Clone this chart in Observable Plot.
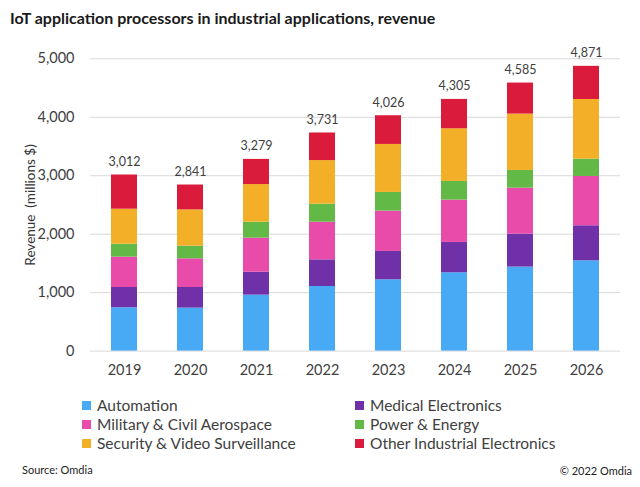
<!DOCTYPE html>
<html>
<head>
<meta charset="utf-8">
<script src="https://cdn.jsdelivr.net/npm/d3@7"></script>
<script src="https://cdn.jsdelivr.net/npm/@observablehq/plot@0.6"></script>
<style>
  body { margin: 0; background: #fff; font-family: Lato, "Open Sans", sans-serif; }
  #wrap { position: relative; width: 640px; height: 487px; overflow: hidden; }
  #title { position: absolute; left: 10px; top: 8px; font-size: 16px; font-weight: bold; color: #1a1a1a; white-space: nowrap; }
  #chart { position: absolute; left: 0; top: 38px; }
  #chart svg g[aria-label="y-axis label"] text { font-size: 13.5px; fill: #333; }
  .leg { position: absolute; font-size: 15.5px; color: #404040; white-space: nowrap; line-height: 18px; }
  .leg span.sw { display: inline-block; width: 9px; height: 9px; margin-right: 6px; vertical-align: 1px; }
  .foot { position: absolute; font-size: 11px; color: #222; white-space: nowrap; }
</style>
</head>
<body>
<div id="wrap">
  <div id="title">IoT application processors in industrial applications, revenue</div>
  <div id="chart"></div>
  <div id="legend"></div>
  <div class="foot" style="left:22px; top:463px;">Source: Omdia</div>
  <div class="foot" style="right:8px; top:464px;">© 2022 Omdia</div>
</div>
<script>
const years = ["2019", "2020", "2021", "2022", "2023", "2024", "2025", "2026"];
const series = ["Automation", "Medical Electronics", "Military & Civil Aerospace", "Power & Energy", "Security & Video Surveillance", "Other Industrial Electronics"];
const colors = ["#48aaf4", "#7030a8", "#e84baa", "#63b946", "#f2af27", "#db1b3b"];
const automation = [741, 735, 957, 1105, 1220, 1340, 1437, 1545];
const medical = [347, 353, 393, 456, 485, 519, 564, 599];
const military = [519, 490, 582, 644, 690, 724, 787, 843];
const power = [222, 217, 273, 308, 319, 319, 302, 297];
const security = [598, 621, 644, 746, 821, 901, 964, 1020];
const other = [585, 425, 430, 472, 491, 502, 531, 567];
const totals = [3012, 2841, 3279, 3731, 4026, 4305, 4585, 4871];
const yTicks = [0, 1000, 2000, 3000, 4000, 5000];

const valuesBySeries = [automation, medical, military, power, security, other];
const data = [];
series.forEach((s, i) => years.forEach((y, j) => data.push({year: y, series: s, value: valuesBySeries[i][j]})));
const totalData = years.map((y, j) => ({year: y, total: totals[j]}));
const fmt = d3.format(",");

const chart = Plot.plot({
  width: 640,
  height: 352,
  marginLeft: 90,
  marginRight: 20,
  marginTop: 20.3,
  marginBottom: 39.4,
  style: {fontFamily: "Lato, 'Open Sans', sans-serif", fontSize: "14.5px", color: "#404040", background: "#fff", overflow: "visible"},
  x: {domain: years, paddingInner: 0.6, paddingOuter: 0.31, label: null, tickSize: 0, tickPadding: 14},
  y: {domain: [0, 5000], ticks: yTicks, tickFormat: fmt, tickSize: 0, tickPadding: 16,
      label: "Revenue  (millions $)", labelAnchor: "center", labelOffset: 65, labelArrow: "none"},
  color: {domain: series, range: colors},
  marks: [
    Plot.ruleY(yTicks, {stroke: "#d9d9d9", strokeWidth: 1}),
    Plot.barY(data, {x: "year", y: "value", fill: "series"}),
    Plot.text(totalData, {x: "year", y: "total", text: d => fmt(d.total), dy: -13, fontSize: 12.5, fill: "#404040"})
  ]
});
document.getElementById("chart").appendChild(chart);

// Legend (two columns, row-major order)
const legend = document.getElementById("legend");
const colX = [82, 355];
const rowY = [396, 415, 434];
series.forEach((s, i) => {
  const d = document.createElement("div");
  d.className = "leg";
  d.style.left = colX[i % 2] + "px";
  d.style.top = rowY[Math.floor(i / 2)] + "px";
  const sw = document.createElement("span");
  sw.className = "sw";
  sw.style.background = colors[i];
  d.appendChild(sw);
  d.appendChild(document.createTextNode(s));
  legend.appendChild(d);
});
</script>
</body>
</html>
